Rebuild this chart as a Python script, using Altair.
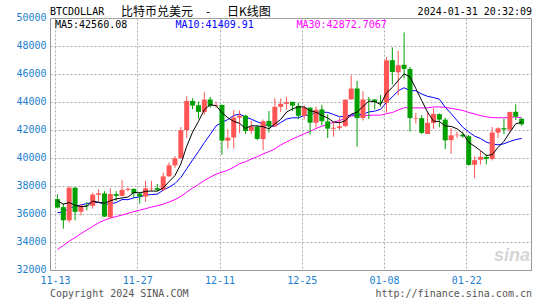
import altair as alt
import pandas as pd

MONO = "DejaVu Sans Mono"
CJK = "Noto Sans CJK SC"
LABEL_BLUE = "#1a7fd0"
UP_RED = "#ff5555"
DOWN_GREEN = "#00a000"

# ---- daily candles 2023-11-13 .. 2024-01-31 ----
dates = pd.date_range("2023-11-13", "2024-01-31", freq="D")

opens = [37064, 36491, 35548, 37879, 36164, 36625, 36585, 37374, 37469, 35756, 37420, 37296, 37721, 37796, 37454, 37248, 37827, 37847,
         37718, 38689, 39472, 39978, 41987, 44076, 43769, 43292, 44180, 43728, 43792, 41239, 41468, 42884, 43028, 41938, 42237, 41349,
         42641, 42261, 43650, 43868, 44012, 43729, 43010, 43600, 42518, 43469, 42614, 42092, 42152,
         42280, 44187, 44961, 42855, 44193, 44179, 43998, 43949, 46988, 46121, 46656, 46354, 42799, 42842, 41715, 42499, 43132, 42742,
         41278, 41624, 41672, 41553, 39518, 39877, 40075, 39937, 41815, 42126, 42031, 43300, 42800]
highs = [37405, 36753, 37964, 37934, 36704, 36846, 37510, 37758, 37631, 37856, 37643, 38415, 37892, 37820, 37560, 38377, 38366, 38146,
         38954, 39678, 40135, 42210, 44408, 44265, 44042, 44705, 44361, 44034, 43808, 42048, 43429, 43390, 43088, 42664, 42359, 42747,
         43354, 44275, 44242, 44367, 44016, 43946, 43765, 43603, 43683, 43804, 43125, 42584, 42860,
         44175, 45899, 45503, 44770, 44353, 44227, 44495, 47218, 47893, 47647, 48970, 46499, 43234, 43065, 43319, 43566, 43189, 42876,
         42134, 41877, 41855, 41651, 40128, 40499, 40254, 42209, 42195, 42797, 43305, 43839, 42850]
lows = [36399, 34948, 35383, 35545, 35901, 36256, 36385, 36897, 35780, 35670, 36923, 37261, 37617, 37162, 36750, 36868, 37613, 37629,
        37629, 38652, 39298, 39978, 41421, 43478, 42821, 43082, 43582, 43594, 40235, 40668, 40676, 41767, 41724, 41724, 41274, 40552,
        41826, 42223, 43292, 43441, 43351, 42775, 42765, 41676, 42167, 42318, 41424, 41520, 41998,
        42214, 44176, 40814, 42675, 42785, 43475, 43662, 43245, 45244, 44483, 45678, 41884, 42464, 41724, 41720, 42085, 42189, 40631,
        40297, 41446, 41446, 39450, 38555, 39532, 39545, 39825, 41431, 41696, 41820, 42711, 42300]
closes = [36462, 35551, 37880, 36155, 36596, 36585, 37386, 37476, 35813, 37432, 37289, 37721, 37796, 37479, 37254, 37832, 37854, 37723,
          38682, 39476, 39978, 41980, 44080, 43746, 43293, 44166, 43725, 43779, 41244, 41450, 42891, 43023, 41929, 42240, 41365, 42623,
          42270, 43652, 43869, 43997, 43740, 43016, 43613, 42520, 43442, 42627, 42099, 42156, 42265,
          44167, 44958, 42848, 44179, 44162, 43989, 43943, 46970, 46139, 46627, 46368, 42853, 42842, 41796, 42511, 43154, 42742, 41262,
          41618, 41665, 41545, 39507, 39845, 40077, 39934, 41816, 42120, 42035, 43288, 42952, 42405]

# closes before the visible window (needed for the moving averages at the left edge)
prior_dates = pd.date_range("2023-10-15", "2023-11-12", freq="D")
prior_closes = [27150, 28500, 28415, 28330, 28720, 29680, 29920, 29990, 33090, 33900, 34500, 34160, 33910, 34090, 34540,
                34500, 34670, 35440, 34940, 34730, 35080, 35050, 35040, 35420, 35650, 36700, 37310, 37130, 37065]

ma_labels = ["MA5:42560.08", "MA10:41409.91", "MA30:42872.7067"]
tick_dates = [(2023, 11, 13), (2023, 11, 27), (2023, 12, 11), (2023, 12, 25), (2024, 1, 8), (2024, 1, 22)]
y_ticks = list(range(32000, 50001, 2000))


def stamp(d):
    return d.strftime("%Y-%m-%dT10:00:00")


candles = pd.DataFrame({"t": [stamp(d) for d in dates], "open": opens, "high": highs,
                        "low": lows, "close": closes})
candles["dir"] = ["up" if c >= o else "down" for o, c in zip(opens, closes)]

ma_src = pd.DataFrame({
    "t": [stamp(d) for d in list(prior_dates) + list(dates)],
    "close": prior_closes + closes,
    "shown": [False] * len(prior_closes) + [True] * len(closes),
})

x_scale = alt.Scale(domain=[alt.DateTime(year=2023, month=11, date=13),
                            alt.DateTime(year=2024, month=2, date=1, hours=4)])
y_scale = alt.Scale(domain=[32000, 50000], nice=False, zero=False)

x_axis = alt.Axis(values=[alt.DateTime(year=y, month=m, date=d) for y, m, d in tick_dates],
                  format="%m-%d", title=None, grid=True, gridDash=[2, 2], gridColor="#aaaaaa",
                  labelPadding=5, tickSize=0)
y_axis = alt.Axis(values=y_ticks, format="d", title=None, grid=True, gridDash=[2, 2],
                  gridColor="#aaaaaa", labelPadding=4, tickSize=0, labelOffset=-1)

X = alt.X("t:T", scale=x_scale, axis=x_axis)
color = alt.Color("dir:N", scale=alt.Scale(domain=["up", "down"], range=[UP_RED, DOWN_GREEN]), legend=None)

base = alt.Chart(candles)
wick = base.mark_rule(strokeWidth=1).encode(
    x=X, y=alt.Y("low:Q", scale=y_scale, axis=y_axis), y2="high:Q", color=color)
body = base.mark_bar(size=5).encode(
    x=X, y=alt.Y("open:Q", scale=y_scale, axis=y_axis), y2="close:Q", color=color)

ma_base = (alt.Chart(ma_src)
           .transform_window(ma5="mean(close)", frame=[-4, 0], sort=[alt.SortField("t")])
           .transform_window(ma10="mean(close)", frame=[-9, 0], sort=[alt.SortField("t")])
           .transform_window(ma30="mean(close)", frame=[-29, 0], sort=[alt.SortField("t")])
           .transform_filter("datum.shown"))


def ma_line(field, col):
    return ma_base.mark_line(strokeWidth=1, color=col).encode(
        x=X, y=alt.Y(f"{field}:Q", scale=y_scale, axis=y_axis))


ma30 = ma_line("ma30", "#ff00ff")
ma10 = ma_line("ma10", "#0000ff")
ma5 = ma_line("ma5", "#000000")


def label(txt, x, y, color="#000000", size=10, align="left", font=MONO, **kw):
    return alt.Chart(pd.DataFrame({"s": [txt]})).mark_text(
        align=align, baseline="middle", font=font, fontSize=size, color=color, **kw
    ).encode(x=alt.value(x), y=alt.value(y), text="s:N")


texts = [
    label("BTCDOLLAR", 0, -6.5),
    label("比特币兑美元", 71, -6.5, size=12, font=CJK),
    label("-", 158, -6.5, size=12, align="center", font=CJK),
    label("日K线图", 177, -6.5, size=12, font=CJK),
    label("2024-01-31 20:32:09", 482, -6.5, align="right"),
    label(ma_labels[0], 5, 7),
    label(ma_labels[1], 125.5, 7, color="#0000ff"),
    label(ma_labels[2], 246.5, 7, color="#ff00ff"),
    label("Copyright 2024 SINA.COM", 0, 276, color="#555555"),
    label("http://finance.sina.com.cn", 482, 276, color="#555555", align="right"),
    label("sina", 462, 238, color="#d6d6d6", size=18, align="center", font="Liberation Sans",
          fontStyle="italic", fontWeight="bold"),
]

chart = alt.layer(ma30, ma10, wick, body, ma5, *texts).properties(
    width=481, height=252,
    autosize=alt.AutoSizeParams(type="none"),
    padding={"left": 50, "top": 18, "right": 14, "bottom": 30},
).configure_view(stroke="#999999", strokeWidth=1).configure_axis(
    domainColor="#999999", labelFont=MONO, labelFontSize=10, labelColor=LABEL_BLUE, tickSize=0
)

chart.save("out.html", embed_options={"renderer": "svg", "actions": False})
